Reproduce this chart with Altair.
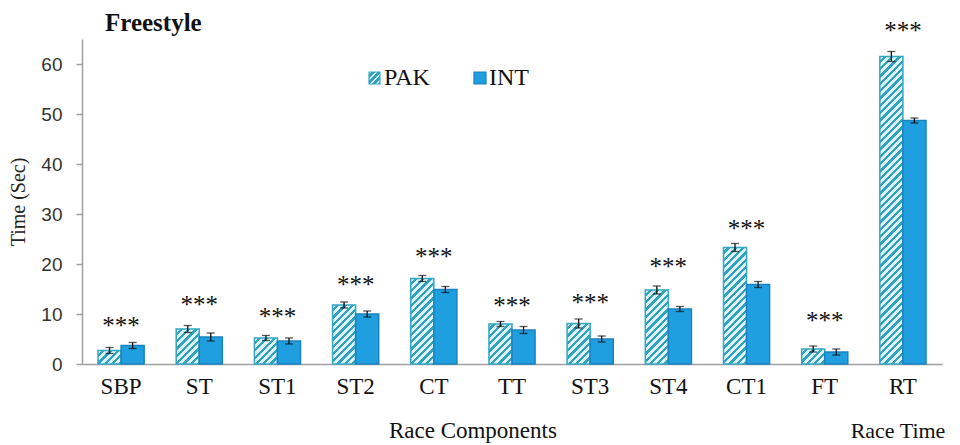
import altair as alt

# ---------------- data ----------------
categories = ["SBP", "ST", "ST1", "ST2", "CT", "TT", "ST3", "ST4", "CT1", "FT", "RT"]
series = ["PAK", "INT"]
pak_mean = [2.7, 7.0, 5.2, 11.8, 17.1, 8.0, 8.1, 14.8, 23.3, 3.0, 61.5]
int_mean = [3.7, 5.4, 4.6, 10.0, 14.9, 6.8, 5.0, 11.0, 15.9, 2.4, 48.7]
pak_err = [0.6, 0.7, 0.5, 0.6, 0.6, 0.5, 0.9, 0.8, 0.8, 0.6, 1.0]
int_err = [0.6, 0.8, 0.6, 0.6, 0.6, 0.7, 0.6, 0.5, 0.6, 0.6, 0.5]
star_y = [8.6, 12.9, 10.4, 16.8, 22.4, 12.6, 13.2, 20.4, 28.0, 9.7, 67.7]
star_text = "***"
y_ticks = [0, 10, 20, 30, 40, 50, 60]

# ---------------- layout / style ----------------
W, H, YMAX = 860, 325, 65
PAD_INNER = 0.41
STEP = W / len(categories)
BAR_W = STEP * (1 - PAD_INNER) / 2
PX_PER_UNIT = H / YMAX

SERIF = "Liberation Serif"
SANS = "Liberation Sans"
PAK_LIGHT, PAK_DARK, PAK_EDGE = "#dcf5fa", "#34a2bd", "#35a6c3"
INT_FILL, INT_EDGE = "#1f9fdf", "#1a82bf"
AXIS_GREY = "#a0a0a0"


def stripes(w, h, light, dark, period=7.3, frac=0.55):
    """45-degree '/' hatch as a bounding-box linear gradient."""
    L = w + h
    a = w * L / (w * w + h * h)
    b = h * L / (w * w + h * h)
    n = max(1.0, L / period)
    stops = []
    k = 0
    while k < n:
        o0 = k / n
        o1 = min((k + frac) / n, 1.0)
        o2 = min((k + 1) / n, 1.0)
        stops += [
            {"offset": round(o0, 5), "color": light},
            {"offset": round(o1, 5), "color": light},
            {"offset": round(o1, 5), "color": dark},
            {"offset": round(o2, 5), "color": dark},
        ]
        k += 1
    return {"gradient": "linear", "x1": 0, "y1": 0,
            "x2": round(a, 5), "y2": round(b, 5), "stops": stops}


rows = []
for i, c in enumerate(categories):
    for s, m, e in (("PAK", pak_mean[i], pak_err[i]), ("INT", int_mean[i], int_err[i])):
        rows.append({
            "cat": c, "series": s, "mean": m, "lo": m - e, "hi": m + e,
            "pattern": stripes(BAR_W, m * PX_PER_UNIT, PAK_LIGHT, PAK_DARK) if s == "PAK" else INT_FILL,
        })
bar_data = alt.Data(values=rows)
star_data = alt.Data(values=[{"cat": c, "sy": v, "t": star_text} for c, v in zip(categories, star_y)])

x_enc = alt.X(
    "cat:N", sort=categories,
    scale=alt.Scale(paddingInner=PAD_INNER, paddingOuter=PAD_INNER / 2),
    axis=alt.Axis(title=None, labelAngle=0, ticks=False, labelFont=SERIF, labelFontSize=23,
                  labelFontWeight="normal", labelColor="#111111", labelPadding=11,
                  domainColor=AXIS_GREY, domainWidth=1.5),
)
xo_enc = alt.XOffset("series:N", sort=series, scale=alt.Scale(paddingInner=0, paddingOuter=0))
y_title = "Time (Sec)"
y_scale = alt.Scale(domain=[0, YMAX], nice=False)

bars = alt.Chart(bar_data).mark_bar(strokeWidth=1.5).encode(
    x=x_enc,
    xOffset=xo_enc,
    y=alt.Y("mean:Q", scale=y_scale, title=y_title,
            axis=alt.Axis(values=y_ticks, grid=False, labelFont=SANS, labelFontSize=19,
                          labelFontWeight="normal", labelColor="#333333", labelPadding=14,
                          tickSize=6, tickWidth=1.5,
                          tickColor=AXIS_GREY, domainColor=AXIS_GREY, domainWidth=1.5,
                          titleFont=SERIF, titleFontSize=20, titleFontWeight="normal",
                          titleColor="#222222", titlePadding=12)),
    fill=alt.Fill("pattern:N", scale=None, legend=None),
    stroke=alt.Stroke("series:N", scale=alt.Scale(domain=series, range=[PAK_EDGE, INT_EDGE]), legend=None),
)

err_rule = alt.Chart(bar_data).mark_rule(color="#111111", strokeWidth=1.3).encode(
    x=x_enc, xOffset=xo_enc,
    y=alt.Y("lo:Q", scale=y_scale, title=y_title), y2="hi:Q",
)
cap_hi = alt.Chart(bar_data).mark_tick(color="#111111", size=8, thickness=1.3).encode(
    x=x_enc, xOffset=xo_enc, y=alt.Y("hi:Q", scale=y_scale, title=y_title),
)
cap_lo = alt.Chart(bar_data).mark_tick(color="#111111", size=8, thickness=1.3).encode(
    x=x_enc, xOffset=xo_enc, y=alt.Y("lo:Q", scale=y_scale, title=y_title),
)

stars = alt.Chart(star_data).mark_text(font=SERIF, fontSize=25, color="#111111",
                                       baseline="middle", dy=5).encode(
    x=x_enc, y=alt.Y("sy:Q", scale=y_scale, title=y_title), text="t:N",
)

# ---- title & axis captions (annotations) ----
title_txt = alt.Chart(alt.Data(values=[{"t": "Freestyle"}])).mark_text(
    font=SERIF, fontSize=25, fontWeight="bold", color="#111111", align="left", baseline="alphabetic"
).encode(x=alt.value(23), y=alt.value(-8), text="t:N")

cap_comp = alt.Chart(alt.Data(values=[{"t": "Race Components"}])).mark_text(
    font=SERIF, fontSize=23, color="#111111", align="center", baseline="alphabetic"
).encode(x=alt.value(STEP * 5), y=alt.value(399), text="t:N")

cap_rt = alt.Chart(alt.Data(values=[{"t": "Race Time"}])).mark_text(
    font=SERIF, fontSize=22, color="#111111", align="center", baseline="alphabetic"
).encode(x=alt.value(816), y=alt.value(399), text="t:N")

# ---- legend ----
one = alt.Data(values=[{"k": 1}])
leg_pak_sw = alt.Chart(one).mark_rect(
    fill=stripes(11, 12, PAK_LIGHT, PAK_DARK, period=6.0, frac=0.5), stroke=PAK_EDGE, strokeWidth=1.2
).encode(x=alt.value(287), x2=alt.value(298), y=alt.value(33), y2=alt.value(45))
leg_int_sw = alt.Chart(one).mark_rect(fill=INT_FILL, stroke=INT_EDGE, strokeWidth=1.2).encode(
    x=alt.value(392), x2=alt.value(404), y=alt.value(33), y2=alt.value(45))
leg_txt = alt.Chart(alt.Data(values=[{"t": "PAK", "px": 302}, {"t": "INT", "px": 407}])).mark_text(
    font=SERIF, fontSize=24, color="#111111", align="left", baseline="alphabetic"
).encode(x=alt.X("px:Q", scale=None), y=alt.value(46), text="t:N")

chart = alt.layer(
    bars, err_rule, cap_hi, cap_lo, stars, title_txt, cap_comp, cap_rt,
    leg_pak_sw, leg_int_sw, leg_txt,
).properties(
    width=W, height=H,
    autosize=alt.AutoSizeParams(type="none"),
    padding={"left": 74, "top": 31, "right": 10, "bottom": 81},
    background="white",
).configure_view(stroke=None)

chart.save("out.html", embed_options={"renderer": "svg", "actions": False})
